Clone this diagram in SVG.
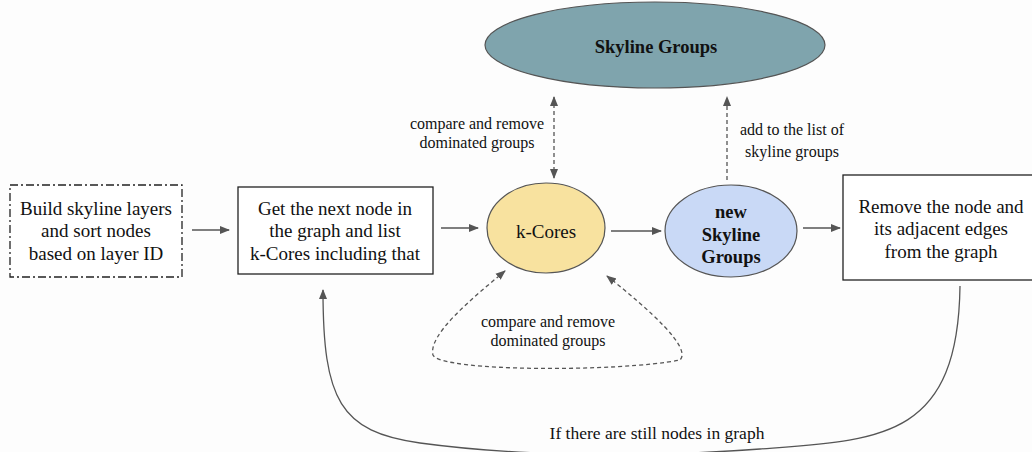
<svg xmlns="http://www.w3.org/2000/svg" width="1032" height="452" viewBox="0 0 1032 452">
  <style>
    text { font-family: "Liberation Serif", "Times New Roman", serif; fill: #111; text-anchor: middle; }
    .main { font-size: 19px; }
    .bold { font-size: 18.5px; font-weight: bold; }
    .lbl { font-size: 16px; }
    .note { font-size: 17.5px; }
    .box { fill: #fff; stroke: #222; stroke-width: 1.3; }
    .edge { fill: none; stroke: #555; stroke-width: 1.3; }
    .dash { stroke-dasharray: 4 3; }
  </style>
  <defs>
    <marker id="arrow" viewBox="0 0 10 10" refX="9" refY="5" markerWidth="10" markerHeight="10" markerUnits="userSpaceOnUse" orient="auto-start-reverse">
      <path d="M0,1 L10,5 L0,9 Z" fill="#555"/>
    </marker>
  </defs>
  <rect width="1032" height="452" fill="#fdfdfd"/>

  <g id="build">
    <rect class="box" x="10" y="185" width="172" height="92" stroke-dasharray="8 3 2 3"/>
    <text class="main" x="96" y="215">Build skyline layers</text>
    <text class="main" x="96" y="237">and sort nodes</text>
    <text class="main" x="96" y="260">based on layer ID</text>
  </g>

  <g id="next-node">
    <rect class="box" x="238" y="187" width="195" height="87"/>
    <text class="main" x="335" y="215">Get the next node in</text>
    <text class="main" x="335" y="237">the graph and list</text>
    <text class="main" x="335" y="260">k-Cores including that</text>
  </g>

  <g id="k-cores">
    <ellipse cx="546" cy="228" rx="59" ry="45" fill="#f8e29f" stroke="#555" stroke-width="1.2"/>
    <text class="main" x="546" y="238">k-Cores</text>
  </g>

  <g id="new-skyline">
    <ellipse cx="731" cy="231" rx="66" ry="46" fill="#c9d9f6" stroke="#555" stroke-width="1.2"/>
    <text class="bold" x="731" y="218">new</text>
    <text class="bold" x="731" y="241">Skyline</text>
    <text class="bold" x="731" y="263">Groups</text>
  </g>

  <g id="remove">
    <rect class="box" x="843" y="175" width="200" height="105"/>
    <text class="main" x="941" y="213">Remove the node and</text>
    <text class="main" x="941" y="235">its adjacent edges</text>
    <text class="main" x="941" y="258">from the graph</text>
  </g>

  <g id="skyline-groups">
    <ellipse cx="655" cy="45" rx="170" ry="43" fill="#7fa4ad" stroke="#555" stroke-width="1.2"/>
    <text class="bold" x="656" y="53">Skyline Groups</text>
  </g>

  <g id="connectors">
    <line class="edge" x1="192" y1="230" x2="229" y2="230" marker-end="url(#arrow)"/>
    <line class="edge" x1="441" y1="228" x2="478" y2="228" marker-end="url(#arrow)"/>
    <line class="edge" x1="611" y1="231" x2="661" y2="231" marker-end="url(#arrow)"/>
    <line class="edge" x1="803" y1="228" x2="840" y2="228" marker-end="url(#arrow)"/>
    <line class="edge dash" x1="554" y1="97" x2="554" y2="178" marker-start="url(#arrow)" marker-end="url(#arrow)"/>
    <line class="edge dash" x1="727" y1="180" x2="727" y2="97" marker-end="url(#arrow)"/>
    <path class="edge dash" d="M505,271 C470,300 428,335 433,355 C440,372 620,372 680,360 C692,348 650,310 607,276" marker-start="url(#arrow)" marker-end="url(#arrow)"/>
    <path class="edge" d="M960,286 C958,440 880,440 760,449 C640,458 516,456 420,443 C340,432 323,400 323,290" marker-end="url(#arrow)"/>
  </g>

  <g id="labels">
    <text class="lbl" x="477" y="129">compare and remove</text>
    <text class="lbl" x="477" y="148">dominated groups</text>
    <text class="lbl" x="792" y="135">add to the list of</text>
    <text class="lbl" x="792" y="157">skyline groups</text>
    <text class="lbl" x="548" y="327">compare and remove</text>
    <text class="lbl" x="548" y="346">dominated groups</text>
    <text class="note" x="657" y="439">If there are still nodes in graph</text>
  </g>
</svg>
